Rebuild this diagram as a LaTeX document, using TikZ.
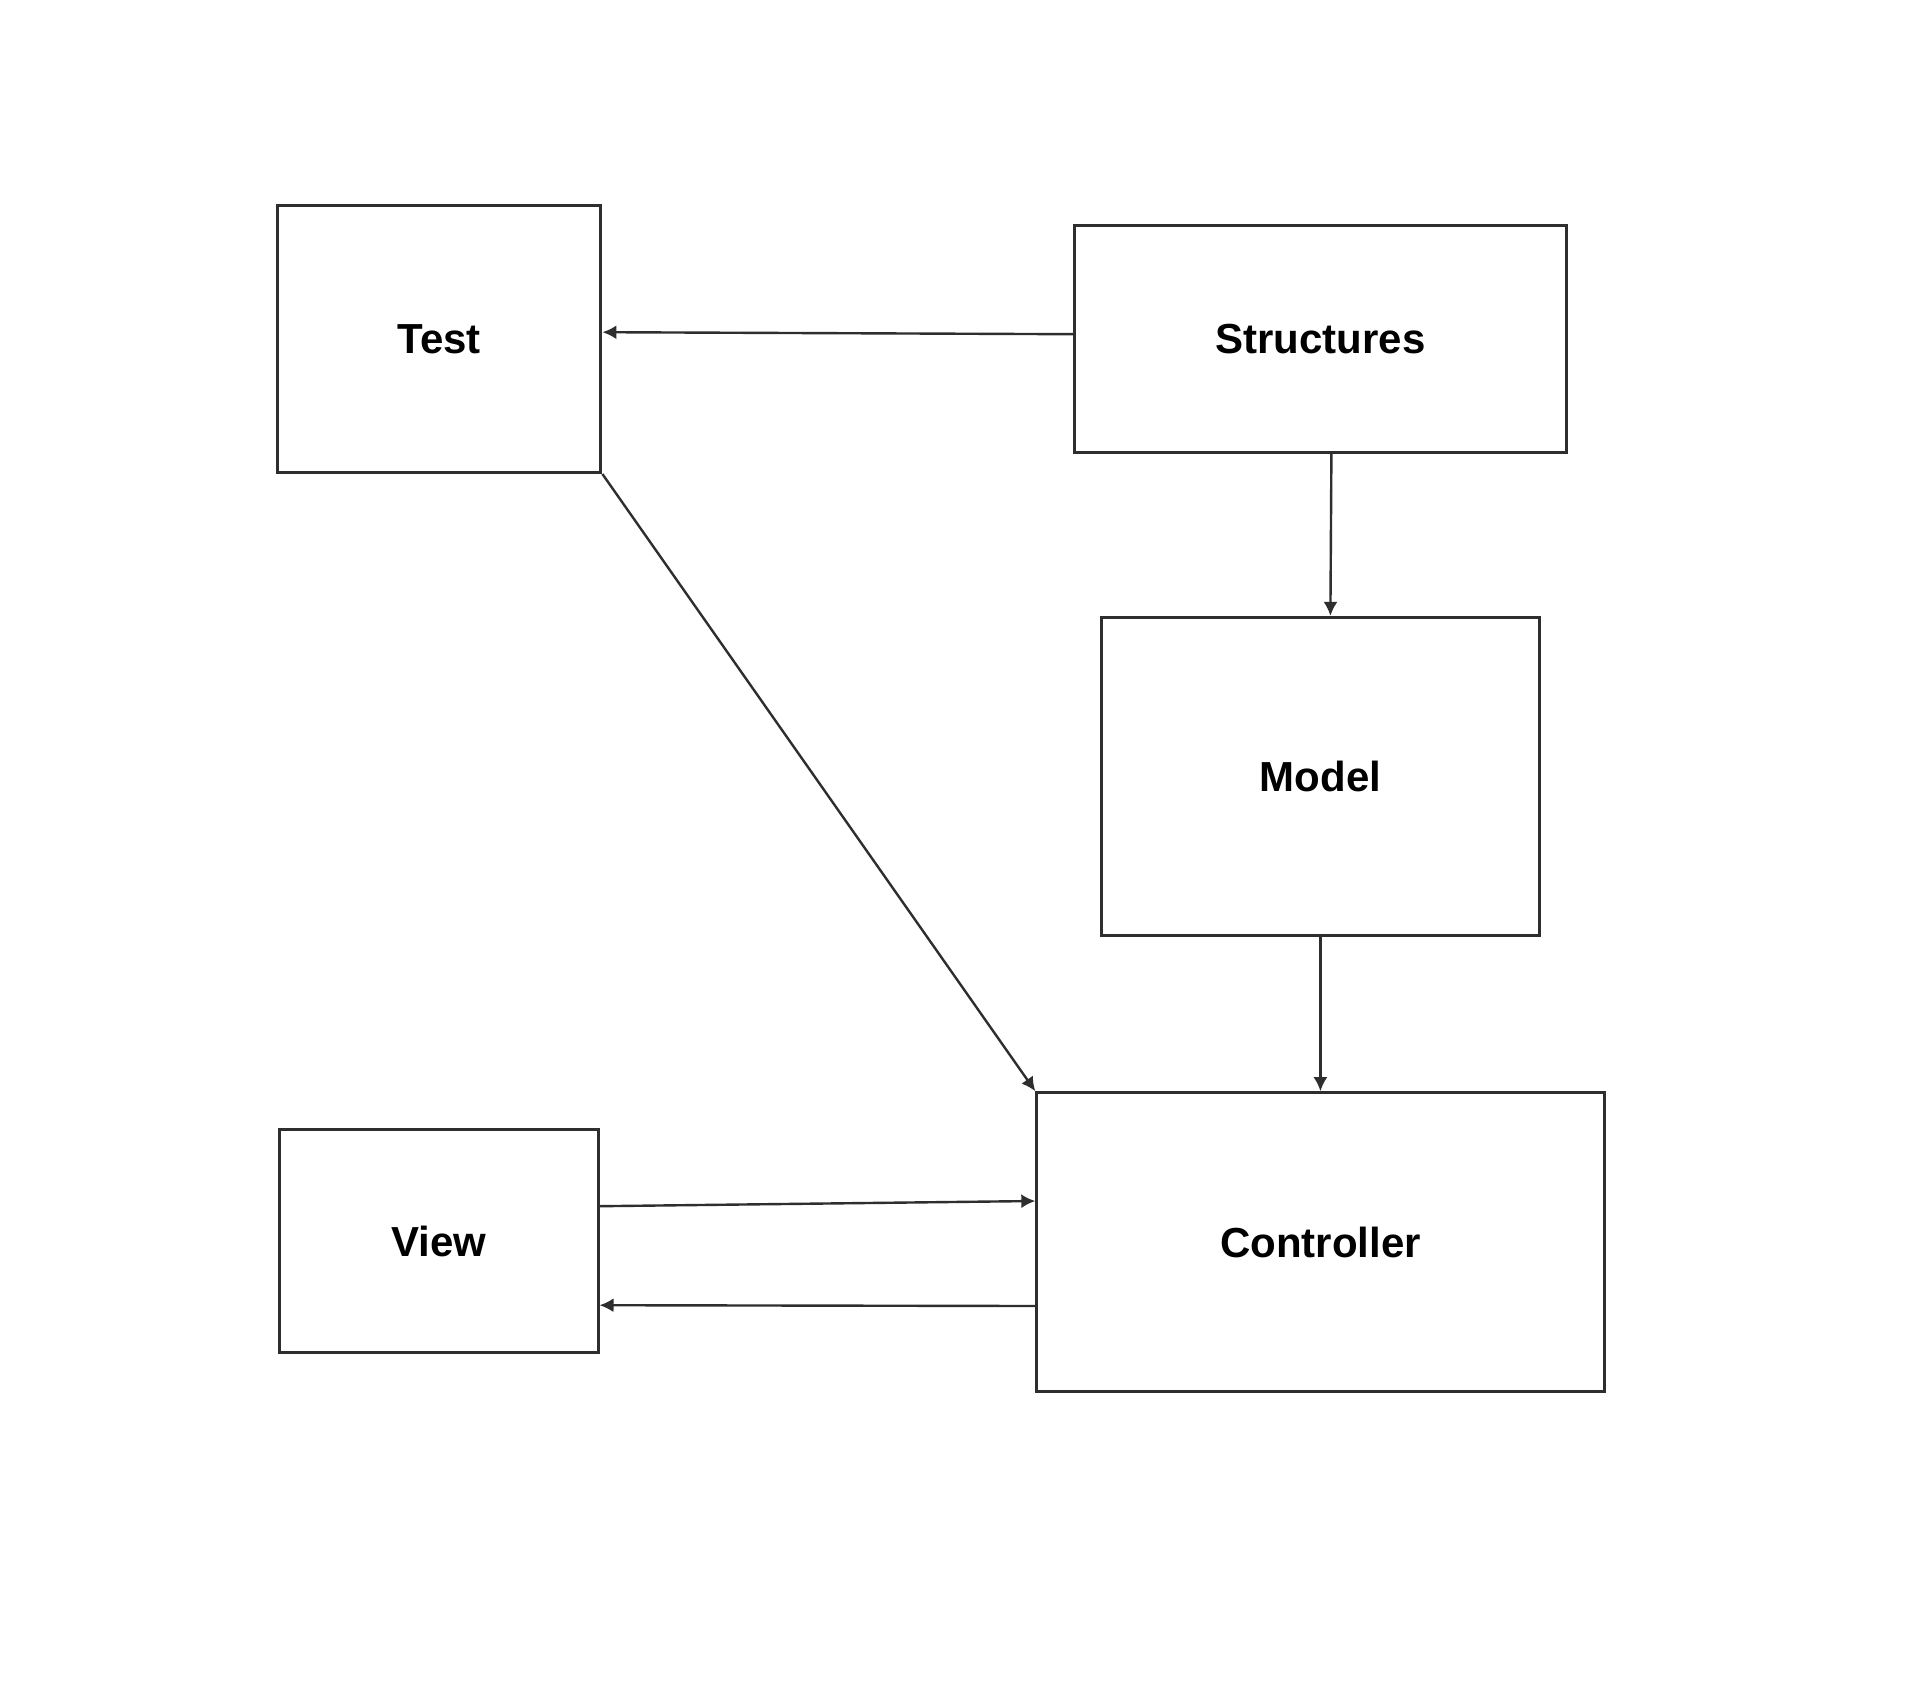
\documentclass[tikz,border=0pt]{standalone}
\usepackage{fontspec}
\setmainfont{Liberation Sans}
\usetikzlibrary{arrows.meta,calc}
\begin{document}
\begin{tikzpicture}[
  box/.style={draw=black!82, line width=1.5pt, fill=white, inner sep=0pt,
    font=\fontsize{21}{25}\selectfont\bfseries},
  conn/.style={draw=black!82, line width=1.2pt, -{Latex[length=7pt,width=7pt]}}
]
\useasboundingbox (0,0) rectangle (963pt,-848pt);
\node[box, minimum width=161.7pt, minimum height=133.3pt] (T) at (219.6pt,-169.6pt) {Test};
\node[box, minimum width=245.8pt, minimum height=113.4pt] (S) at (660.2pt,-169.6pt) {Structures};
\node[box, minimum width=218.9pt, minimum height=159.2pt] (M) at (660.2pt,-388.3pt) {Model};
\node[box, minimum width=159.2pt, minimum height=111.4pt] (V) at (219.4pt,-620.6pt) {View};
\node[box, minimum width=283.6pt, minimum height=149.3pt] (C) at (660.2pt,-621pt) {Controller};

\draw[conn] ($(S.west)+(0,2.5pt)$) -- ($(T.east)+(0,3.5pt)$);
\draw[conn] ($(S.south)+(5.5pt,0)$) -- ($(M.north)+(5pt,0)$);
\draw[conn] (T.south east) -- (C.north west);
\draw[conn] (M.south) -- (C.north);
\draw[conn] ($(V.east)+(0,17.5pt)$) -- ($(C.west)+(0,20.5pt)$);
\draw[conn] ($(C.west)+(0,-32pt)$) -- ($(V.east)+(0,-32pt)$);
\end{tikzpicture}
\end{document}
